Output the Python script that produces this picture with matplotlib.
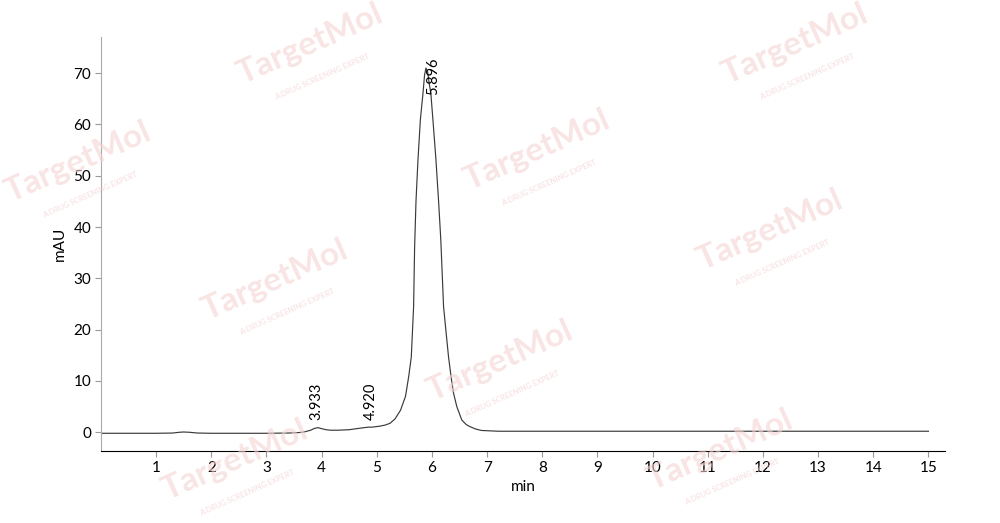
import matplotlib
matplotlib.use("Agg")
import matplotlib.pyplot as plt

plt.rcParams['font.family'] = ['Lato', 'Noto Sans', 'DejaVu Sans']

# Chromatogram trace (time in min, signal in mAU)
time_min = [0.0, 0.5, 1.0, 1.3, 1.42, 1.5, 1.6, 1.75, 2.0, 2.5, 3.0, 3.4, 3.6, 3.7,
            3.8, 3.87, 3.933, 4.0, 4.08, 4.16, 4.3, 4.5, 4.7, 4.85, 4.92, 5.06,
            5.15, 5.24, 5.33, 5.43, 5.52, 5.58, 5.625, 5.667, 5.685, 5.71, 5.746,
            5.79, 5.837, 5.865, 5.89, 5.92, 5.95, 5.98, 6.02, 6.072, 6.12, 6.16,
            6.21, 6.26, 6.30, 6.35, 6.39, 6.45, 6.54, 6.62, 6.69, 6.8, 6.9, 7.2,
            8.0, 9.0, 10.0, 11.0, 12.0, 13.0, 14.0, 15.0]
signal_mau = [-0.2, -0.2, -0.2, -0.15, 0.0, 0.05, 0.0, -0.15, -0.2, -0.2, -0.2, -0.15, -0.05, 0.1,
              0.4, 0.75, 0.9, 0.7, 0.5, 0.4, 0.4, 0.5, 0.8, 1.0, 1.0, 1.2,
              1.4, 1.75, 2.6, 4.3, 7.0, 11.0, 14.7, 24.5, 36.0, 45.0, 53.1,
              61.0, 66.1, 69.6, 71.0, 70.3, 68.0, 66.0, 60.5, 53.1, 45.0, 37.5,
              24.5, 19.0, 14.7, 10.5, 7.66, 5.0, 2.4, 1.5, 1.09, 0.6, 0.35, 0.2,
              0.2, 0.2, 0.2, 0.2, 0.2, 0.2, 0.2, 0.2]

peak_times = [3.933, 4.920, 5.896]
peak_labels = ["3.933", "4.920", "5.896"]

x_ticks = list(range(1, 16))
y_ticks = [0, 10, 20, 30, 40, 50, 60, 70]

fig = plt.figure(figsize=(10, 5.23), dpi=100)

# Watermarks (TargetMol), figure-fraction positions
wm_pos = [(0.078, 0.69), (0.31, 0.915), (0.537, 0.713), (0.795, 0.915), (0.77, 0.56),
          (0.275, 0.465), (0.50, 0.31), (0.72, 0.14), (0.235, 0.12)]
for (wx, wy) in wm_pos:
    fig.text(wx, wy, "TargetMol", fontsize=24, fontweight='bold', color='#f5d3d3',
             alpha=0.6, rotation=24, ha='center', va='center', zorder=0)
    fig.text(wx + 0.012, wy - 0.062, "A DRUG SCREENING EXPERT", fontsize=5.5,
             fontweight='bold', color='#f5d3d3', alpha=0.6, rotation=24,
             ha='center', va='center', zorder=0)

ax = fig.add_axes([0.101, 0.1377, 0.844, 0.791])
ax.patch.set_alpha(0)
ax.plot(time_min, signal_mau, color='#3a3a3a', linewidth=0.85)

ax.set_xlim(0.0, 15.3)
ax.set_ylim(-3.65, 77.0)
ax.set_xticks(x_ticks)
ax.set_yticks(y_ticks)

ax.spines['top'].set_visible(False)
ax.spines['right'].set_visible(False)
ax.spines['left'].set_color('#aaaaaa')
ax.spines['bottom'].set_color('#000000')
ax.tick_params(axis='both', direction='out', length=4, width=0.8, color='#999999',
               labelsize=11, labelcolor='black', pad=3)

ax.set_xlabel("min", fontsize=11, labelpad=4)
ax.set_ylabel("mAU", fontsize=11, labelpad=5)

# Peak labels
for t, lab in zip(peak_times[:2], peak_labels[:2]):
    ax.text(t - 0.03, 2.3, lab, rotation=90, ha='center', va='bottom', fontsize=10.5)
ax.text(peak_times[2] + 0.12, 69.5, peak_labels[2], rotation=90, ha='center',
        va='center', fontsize=10.5)

fig.savefig("out.png", dpi=100)
